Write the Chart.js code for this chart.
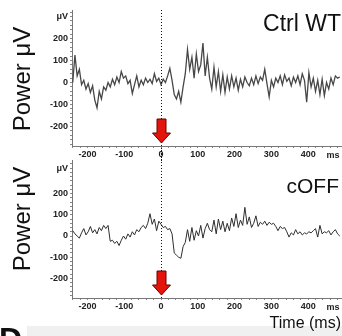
<!DOCTYPE html>
<html>
<head>
<meta charset="utf-8">
<script src="https://cdn.jsdelivr.net/npm/chart.js@4.4.0/dist/chart.umd.min.js"></script>
<style>
  body { margin: 0; background: #fff; }
  #wrap { position: relative; width: 342px; height: 336px; overflow: hidden; font-family: "Liberation Sans", Arial, sans-serif; color: #111; }
  canvas { position: absolute; left: 0; }
  .lbl { position: absolute; white-space: nowrap; line-height: 1; }
  .rot { transform: translate(-50%, -50%) rotate(-90deg); font-size: 24px; }
  .ttl { transform: translateY(-50%); }
  .ms { font-size: 9px; font-weight: bold; color: #222; transform: translate(-50%, -50%); }
  #band { position: absolute; left: 27px; top: 326px; width: 315px; height: 10px; background: #f0f0f0; }
</style>
</head>
<body>
<div id="wrap">
  <div id="band"></div>
  <canvas id="top" width="342" height="162" style="top:0"></canvas>
  <canvas id="bottom" width="342" height="174" style="top:150px"></canvas>
  <div class="lbl rot" style="left:22px; top:79px">Power μV</div>
  <div class="lbl rot" style="left:22px; top:219px">Power μV</div>
  <div class="lbl ttl" style="right:1px; top:23px; font-size:23px">Ctrl WT</div>
  <div class="lbl ttl" style="right:3px; top:185px; font-size:21px">cOFF</div>
  <div class="lbl ms" style="left:333px; top:155px">ms</div>
  <div class="lbl ms" style="left:333px; top:307px">ms</div>
  <div class="lbl ttl" style="right:1px; top:323px; font-size:16px">Time (ms)</div>
  <div class="lbl" style="left:-1px; top:323px; font-size:32px; font-weight:bold">D</div>
</div>
<script>
// sample times (ms), stimulus at 0
const timeMs = [
  -240,-234,-228,-222,-216,-210,-204,-198,-192,-186,
  -180,-174,-168,-162,-156,-150,-144,-138,-132,-126,
  -120,-114,-108,-102,-96,-90,-84,-78,-72,-66,
  -60,-54,-48,-42,-36,-30,-24,-18,-12,-6,
  0,6,12,18,24,30,36,42,48,54,
  60,66,72,78,84,90,96,102,108,114,
  120,126,132,138,144,150,156,162,168,174,
  180,186,192,198,204,210,216,222,228,234,
  240,246,252,258,264,270,276,282,288,294,
  300,306,312,318,324,330,336,342,348,354,
  360,366,372,378,384,390,396,402,408,414,
  420,426,432,438,444,450,456,462,468,474,
  480,486
];

// Ctrl WT trace (µV)
const ctrlWT = [
  0,125,30,60,-10,10,-30,-5,-45,-15,
  -80,-115,-40,-75,-20,-35,0,-20,15,-10,
  25,0,50,20,30,-5,10,-50,-10,30,
  -20,10,-10,20,0,15,-5,40,5,20,
  -10,15,0,30,65,10,-55,-75,-40,-90,
  -20,40,150,60,115,20,130,50,80,180,
  30,115,20,-30,70,-20,50,-40,35,-45,
  25,-30,30,-20,20,-35,15,-20,25,0,
  -15,20,-10,30,-5,25,10,60,-5,-65,
  10,-20,20,0,30,-10,35,5,20,-15,
  25,0,30,-10,40,10,-90,45,-20,20,
  -40,10,-55,15,-60,0,-30,20,-10,30,
  20,25
];

// cOFF trace (µV)
const cOFF = [
  25,10,0,-10,15,35,5,20,45,15,
  30,10,40,25,50,35,50,-25,-20,-35,
  -25,-45,-20,0,-15,10,-5,20,5,30,
  20,40,50,35,60,105,55,80,25,70,
  55,40,45,30,35,10,-80,-90,-100,-105,
  -50,-30,30,-25,40,-20,25,0,50,-10,
  35,60,30,20,75,10,80,30,70,20,
  60,25,85,45,105,40,75,50,135,55,
  90,40,60,95,45,65,55,70,50,65,
  55,60,45,25,45,35,40,20,-5,15,
  5,30,10,20,5,15,10,20,15,25,
  35,-5,50,10,20,15,25,5,20,30,
  10,0
];

const xTickLabels = [-200, -100, 0, 100, 200, 300, 400];
const yTickLabels = [-200, -100, 0, 100, 200];

const FONT = '"Liberation Sans", Arial, sans-serif';

const markerPlugin = {
  id: 'marker',
  afterDatasetsDraw(chart, args, opts) {
    const { ctx, chartArea } = chart;
    const cx = Math.round(chart.scales.x.getPixelForValue(0)) + 0.5;
    ctx.save();
    // dotted stimulus line
    ctx.strokeStyle = '#111';
    ctx.lineWidth = 1;
    ctx.setLineDash([1, 2]);
    ctx.beginPath();
    ctx.moveTo(cx, opts.fromCanvasTop ? 0 : chartArea.top);
    ctx.lineTo(cx, opts.toCanvasBottom ? chart.height : chartArea.bottom);
    ctx.stroke();
    // red arrow
    ctx.setLineDash([]);
    const b = chartArea.bottom;
    const tip = b - 3, top = b - 27, neck = b - 13;
    ctx.beginPath();
    ctx.moveTo(cx - 4.5, top);
    ctx.lineTo(cx + 4.5, top);
    ctx.lineTo(cx + 4.5, neck);
    ctx.lineTo(cx + 9, neck);
    ctx.lineTo(cx, tip);
    ctx.lineTo(cx - 9, neck);
    ctx.lineTo(cx - 4.5, neck);
    ctx.closePath();
    ctx.fillStyle = '#e3140c';
    ctx.fill();
    ctx.strokeStyle = '#6b0000';
    ctx.stroke();
    ctx.restore();
  }
};

function makeChart(id, values, cfg) {
  const tickFont = { family: FONT, size: 9, weight: 'bold' };
  return new Chart(document.getElementById(id), {
    type: 'line',
    data: {
      datasets: [{
        data: timeMs.map((t, i) => ({ x: t, y: values[i] })),
        borderColor: cfg.color,
        borderWidth: cfg.width,
        pointRadius: 0,
        tension: 0,
        fill: false
      }]
    },
    options: {
      responsive: false,
      animation: false,
      events: [],
      layout: { padding: { top: 10, left: 0, right: 0, bottom: 0 } },
      plugins: { legend: { display: false }, tooltip: { enabled: false }, marker: cfg.marker },
      scales: {
        x: {
          type: 'linear',
          min: -242,
          max: 492,
          afterFit: s => { s.height = cfg.xHeight; },
          border: { color: '#777', width: 1 },
          grid: { drawOnChartArea: false, tickLength: 2, color: '#888' },
          ticks: {
            stepSize: 20, includeBounds: false, autoSkip: false, maxRotation: 0,
            padding: 1, color: '#222', font: tickFont,
            callback: v => xTickLabels.includes(v) ? String(v) : ''
          }
        },
        y: {
          min: cfg.yMin,
          max: cfg.yMax,
          afterFit: s => { s.width = 72; s.paddingTop = 0; s.paddingBottom = 0; },
          border: { color: '#777', width: 1 },
          grid: { drawOnChartArea: false, tickLength: 2, color: '#888' },
          ticks: {
            stepSize: 20, includeBounds: false, autoSkip: false,
            padding: 2, color: '#222', font: tickFont,
            callback: v => v === cfg.unitTick ? 'μV' : (yTickLabels.includes(v) ? String(v) : '')
          }
        }
      }
    },
    plugins: [markerPlugin]
  });
}

makeChart('top', ctrlWT, {
  color: '#474747', width: 1.3, yMin: -289, yMax: 330, unitTick: 300, xHeight: 16,
  marker: { fromCanvasTop: false, toCanvasBottom: true }
});
makeChart('bottom', cOFF, {
  color: '#2e2e2e', width: 1, yMin: -292, yMax: 358, unitTick: 320, xHeight: 26,
  marker: { fromCanvasTop: true, toCanvasBottom: false }
});
</script>
</body>
</html>
